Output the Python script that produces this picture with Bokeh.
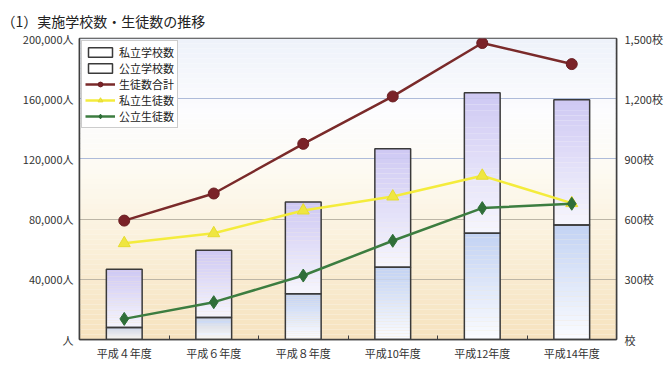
from bokeh.plotting import figure
from bokeh.models import (Range1d, LinearAxis, FixedTicker, CustomJSTickFormatter,
                          Legend, LegendItem, Grid)
from bokeh.embed import file_html
from bokeh.resources import INLINE

# ---------------- data ----------------
categories = ["平成４年度", "平成６年度", "平成８年度", "平成10年度", "平成12年度", "平成14年度"]
public_schools = [60, 110, 228, 360, 530, 570]        # 公立学校数 (lower segment)
private_schools = [290, 335, 457, 590, 700, 625]      # 私立学校数 (upper segment)
total_students = [79000, 97000, 130000, 161500, 197000, 183000]   # 生徒数合計
private_students = [64000, 70600, 85700, 95000, 108800, 90600]   # 私立生徒数
public_students = [13700, 24800, 42500, 65600, 87300, 90200]     # 公立生徒数

left_ticks = [0, 40000, 80000, 120000, 160000, 200000]
right_ticks = [0, 300, 600, 900, 1200, 1500]

FONT = "Noto Sans CJK JP"

n = len(categories)
xs = [i + 0.5 for i in range(n)]

p = figure(frame_width=537, frame_height=301, output_backend="svg", toolbar_location=None,
           x_range=Range1d(0, n), y_range=Range1d(0, 200000),
           min_border_left=79, min_border_right=40, min_border_top=37, min_border_bottom=14,
           background_fill_color="white", border_fill_color="white")
p.extra_y_ranges = {"schools": Range1d(0, 1500)}

# title
p.title.text = "（1）実施学校数・生徒数の推移"
p.title.text_font = FONT
p.title.text_font_size = "14px"
p.title.text_font_style = "normal"
p.title.text_color = "#222222"
p.title.text_line_height = 1.0
p.title.align = "left"
p.title.offset = -78
p.title.standoff = 16

p.outline_line_color = "#404040"
p.outline_line_width = 1.5


def lerp(c1, c2, t):
    return tuple(int(round(a + (b - a) * t)) for a, b in zip(c1, c2))


def hexc(c):
    return "#%02x%02x%02x" % c


# background vertical gradient (decoration)
stops = [(0.0, (246, 226, 190)), (0.3, (250, 239, 216)), (0.55, (253, 250, 241)),
         (0.75, (252, 252, 254)), (1.0, (238, 242, 250))]
NB = 60
bg_b, bg_t, bg_c = [], [], []
for k in range(NB):
    f = (k + 0.5) / NB
    for j in range(len(stops) - 1):
        if stops[j][0] <= f <= stops[j + 1][0]:
            t = (f - stops[j][0]) / (stops[j + 1][0] - stops[j][0])
            col = lerp(stops[j][1], stops[j + 1][1], t)
            break
    bg_b.append(200000 * k / NB)
    bg_t.append(200000 * (k + 1) / NB)
    bg_c.append(hexc(col))
p.quad(left=0, right=n, bottom=bg_b, top=bg_t, fill_color=bg_c, line_color=None, level="image")

# grids
p.xgrid.visible = False
p.ygrid.ticker = FixedTicker(ticks=[120000, 160000])
p.ygrid.grid_line_color = "#aebbd9"
p.ygrid.grid_line_width = 1
g2 = Grid(dimension=1, ticker=FixedTicker(ticks=[40000, 80000]),
          grid_line_color="#bcb5a6", grid_line_width=1)
p.add_layout(g2)

# bars with vertical gradient fills via slices
NS = 24
low_top_c, low_bot_c = (194, 210, 243), (251, 252, 255)
up_top_c, up_bot_c = (206, 200, 243), (246, 246, 253)
sx, sb, st, sc = [], [], [], []
for i in range(n):
    lo = public_schools[i]
    hi = public_schools[i] + private_schools[i]
    for k in range(NS):
        t = (k + 0.5) / NS
        sx.append(xs[i]); sb.append(lo * k / NS); st.append(lo * (k + 1) / NS)
        sc.append(hexc(lerp(low_bot_c, low_top_c, t)))
        sx.append(xs[i]); sb.append(lo + (hi - lo) * k / NS); st.append(lo + (hi - lo) * (k + 1) / NS)
        sc.append(hexc(lerp(up_bot_c, up_top_c, t)))
p.vbar(x=sx, bottom=sb, top=st, width=0.4, fill_color=sc, line_color=None, y_range_name="schools")

tot_schools = [a + b for a, b in zip(public_schools, private_schools)]
r_priv_s = p.vbar(x=xs, bottom=public_schools, top=tot_schools, width=0.4,
                  fill_color="white", fill_alpha=0, line_color="#3a3a3a", line_width=1.5,
                  y_range_name="schools")
r_pub_s = p.vbar(x=xs, bottom=0, top=public_schools, width=0.4,
                 fill_color="white", fill_alpha=0, line_color="#3a3a3a", line_width=1.5,
                 y_range_name="schools")

# lines
r_tot_l = p.line(xs, total_students, line_color="#7a2a2a", line_width=2.5)
r_tot_m = p.scatter(xs, total_students, marker="circle", size=11,
                    fill_color="#7a2228", line_color="#6a1e22")
r_pri_l = p.line(xs, private_students, line_color="#f4ec3c", line_width=2.5)
r_pri_m = p.scatter(xs, private_students, marker="triangle", size=12,
                    fill_color="#efe640", line_color="#e6dc30")
r_pub_l = p.line(xs, public_students, line_color="#3c7d40", line_width=2.5)
r_pub_m = p.scatter(xs, public_students, marker="diamond", size=13,
                    fill_color="#2f6e38", line_color="#2f6e38")

# axes
AX_COL = "#404040"
xa = p.xaxis[0]
xa.ticker = FixedTicker(ticks=xs, minor_ticks=list(range(1, n)))
xa.formatter = CustomJSTickFormatter(args=dict(labels=categories),
                                     code="return labels[Math.round(tick - 0.5)];")
xa.major_tick_line_color = None
xa.major_tick_in = 0
xa.major_tick_out = 0
xa.minor_tick_in = 4
xa.minor_tick_out = 0
xa.minor_tick_line_color = AX_COL
xa.axis_line_color = AX_COL
xa.axis_line_width = 1.5
xa.major_label_text_font = FONT
xa.major_label_text_font_size = "11px"
xa.major_label_text_color = "#333333"
xa.major_label_standoff = 5

ya = p.yaxis[0]
ya.ticker = FixedTicker(ticks=left_ticks)
ya.formatter = CustomJSTickFormatter(
    code="return tick == 0 ? '人' : tick.toLocaleString('en-US') + '人';")
ya.major_tick_line_color = None
ya.major_tick_in = 0
ya.major_tick_out = 0
ya.minor_tick_line_color = None
ya.axis_line_color = AX_COL
ya.axis_line_width = 1.5
ya.major_label_text_font = FONT
ya.major_label_text_font_size = "11px"
ya.major_label_text_color = "#333333"
ya.major_label_standoff = 6

ra = LinearAxis(y_range_name="schools", ticker=FixedTicker(ticks=right_ticks),
                formatter=CustomJSTickFormatter(
                    code="return tick == 0 ? '校' : tick.toLocaleString('en-US') + '校';"))
ra.major_tick_line_color = None
ra.major_tick_in = 0
ra.major_tick_out = 0
ra.minor_tick_line_color = None
ra.axis_line_color = AX_COL
ra.axis_line_width = 1.5
ra.major_label_text_font = FONT
ra.major_label_text_font_size = "11px"
ra.major_label_text_color = "#333333"
ra.major_label_standoff = 8
p.add_layout(ra, "right")

legend = Legend(items=[
    LegendItem(label="私立学校数", renderers=[r_priv_s]),
    LegendItem(label="公立学校数", renderers=[r_pub_s]),
    LegendItem(label="生徒数合計", renderers=[r_tot_l, r_tot_m]),
    LegendItem(label="私立生徒数", renderers=[r_pri_l, r_pri_m]),
    LegendItem(label="公立生徒数", renderers=[r_pub_l, r_pub_m]),
], location="top_left")
legend.label_text_font = FONT
legend.label_text_font_size = "11px"
legend.label_text_color = "#222222"
legend.glyph_width = 30
legend.glyph_height = 12
legend.label_height = 12
legend.label_standoff = 4
legend.spacing = 0
legend.padding = 3
legend.margin = 2
legend.border_line_color = "#9a9a9a"
legend.border_line_width = 1
legend.background_fill_color = "white"
legend.background_fill_alpha = 1
p.add_layout(legend)

open("out.html", "w").write(file_html(p, INLINE))
